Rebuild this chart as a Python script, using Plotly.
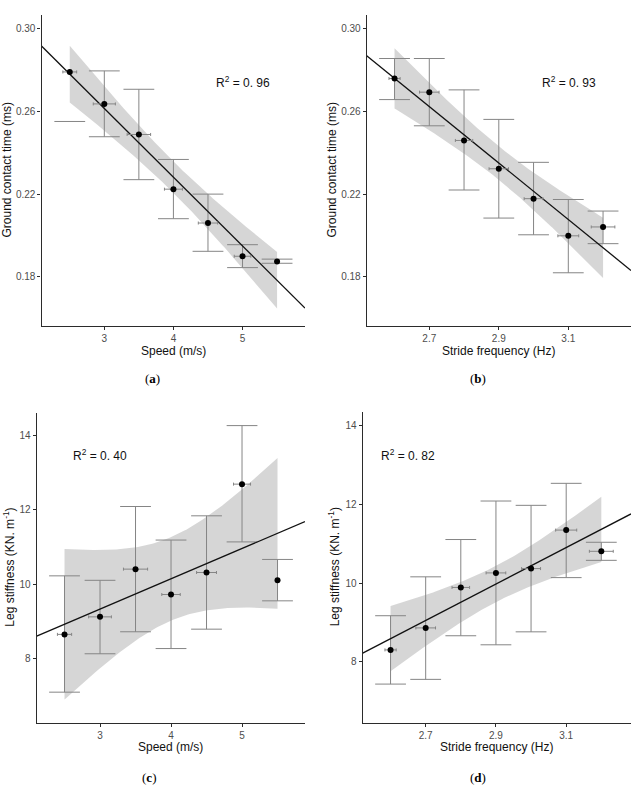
import numpy as np
import plotly.graph_objects as go

# ---------------- data ----------------
speed = [2.5, 3.0, 3.5, 4.0, 4.5, 5.0, 5.5]
speed_err = [0.10, 0.16, 0.17, 0.13, 0.14, 0.12, None]
stride = [2.6, 2.7, 2.8, 2.9, 3.0, 3.1, 3.2]
stride_err = [0.016, 0.028, 0.025, 0.028, 0.027, 0.030, 0.034]

gct_speed = [0.2792, 0.2637, 0.2489, 0.2224, 0.2060, 0.1899, 0.1873]
gct_speed_lo = [0.2552, 0.2478, 0.2270, 0.2081, 0.1923, 0.1844, 0.1865]
gct_speed_hi = [None, 0.2797, 0.2708, 0.2368, 0.2200, 0.1955, 0.1885]

gct_stride = [0.2760, 0.2694, 0.2460, 0.2323, 0.2178, 0.1998, 0.2041]
gct_stride_lo = [0.2658, 0.2531, 0.2220, 0.2084, 0.2003, 0.1819, 0.1960]
gct_stride_hi = [0.2857, 0.2857, 0.2705, 0.2562, 0.2354, 0.2174, 0.2118]

kleg_speed = [8.66, 9.13, 10.41, 9.73, 10.32, 12.69, 10.11]
kleg_speed_lo = [7.11, 8.14, 8.73, 8.28, 8.80, 11.14, 9.56]
kleg_speed_hi = [10.23, 10.11, 12.09, 11.19, 11.84, 14.26, 10.67]

kleg_stride = [8.30, 8.86, 9.89, 10.26, 10.37, 11.35, 10.81]
kleg_stride_lo = [7.43, 7.55, 8.66, 8.43, 8.76, 10.14, 10.58]
kleg_stride_hi = [9.17, 10.16, 11.11, 12.09, 11.98, 12.54, 11.04]

# half-width of the 95% confidence ribbon at the mean x
band_halfwidth_at_mean = [0.0076, 0.0081, 1.12, 0.46]

r2_labels = ["R<sup>2</sup> = 0. 96", "R<sup>2</sup> = 0. 93",
             "R<sup>2</sup> = 0. 40", "R<sup>2</sup> = 0. 82"]
panel_labels = ["(<b>a</b>)", "(<b>b</b>)", "(<b>c</b>)", "(<b>d</b>)"]
x_titles = ["Speed (m/s)", "Stride frequency (Hz)", "Speed (m/s)", "Stride frequency (Hz)"]
y_titles = ["Ground contact time (ms)", "Ground contact time (ms)",
            "Leg stiffness (KN. m<sup>-1</sup>)", "Leg stiffness (KN. m<sup>-1</sup>)"]
speed_ticks = [3, 4, 5]
stride_ticks = [2.7, 2.9, 3.1]
gct_ticks = [0.18, 0.22, 0.26, 0.30]
kleg_ticks = [8, 10, 12, 14]

# ---------------- style / layout ----------------
W, H = 631, 786
FONT = "Liberation Sans, Arial, sans-serif"
ERR_COL = "#858585"
AX_COL = "#2b2b2b"
TICK_COL = "#4d4d4d"

panels = [
    dict(x=speed, xerr=speed_err, y=gct_speed, lo=gct_speed_lo, hi=gct_speed_hi,
         xdom=(41.5, 305), ydom=(15, 326), xr=(2.091, 5.904), yr=(0.15611, 0.30678),
         xt=speed_ticks, xtt=["3", "4", "5"], yt=gct_ticks, ytt=["0.18", "0.22", "0.26", "0.30"],
         r2=(242.5, 81.7), lab=(152, 378), xtitle_y=351, ytitle_x=6),
    dict(x=stride, xerr=stride_err, y=gct_stride, lo=gct_stride_lo, hi=gct_stride_hi,
         xdom=(366.7, 631), ydom=(15, 326), xr=(2.5199, 3.2804), yr=(0.15611, 0.30678),
         xt=stride_ticks, xtt=["2.7", "2.9", "3.1"], yt=gct_ticks, ytt=["0.18", "0.22", "0.26", "0.30"],
         r2=(568.5, 81.7), lab=(478, 378), xtitle_y=351, ytitle_x=331),
    dict(x=speed, xerr=speed_err, y=kleg_speed, lo=kleg_speed_lo, hi=kleg_speed_hi,
         xdom=(36.7, 305), ydom=(412.7, 722.7), xr=(2.108, 5.887), yr=(6.291, 14.606),
         xt=speed_ticks, xtt=["3", "4", "5"], yt=kleg_ticks, ytt=["8", "10", "12", "14"],
         r2=(100, 455), lab=(149, 777), xtitle_y=747, ytitle_x=9),
    dict(x=stride, xerr=stride_err, y=kleg_stride, lo=kleg_stride_lo, hi=kleg_stride_hi,
         xdom=(362.7, 631), ydom=(412, 722.7), xr=(2.5207, 3.2845), yr=(6.447, 14.356),
         xt=stride_ticks, xtt=["2.7", "2.9", "3.1"], yt=kleg_ticks, ytt=["8", "10", "12", "14"],
         r2=(408, 455), lab=(478, 777), xtitle_y=747, ytitle_x=334),
]


def fit_band(x, y, xs, hw_mean):
    x = np.asarray(x, float)
    y = np.asarray(y, float)
    n = len(x)
    b1, b0 = np.polyfit(x, y, 1)
    sxx = np.sum((x - x.mean()) ** 2)
    # confidence band shape of a linear fit: widens with distance from mean x
    hw = hw_mean * np.sqrt(1.0 + n * (xs - x.mean()) ** 2 / sxx)
    yhat = b0 + b1 * xs
    return yhat, yhat - hw, yhat + hw


fig = go.Figure()
annotations = []
layout_axes = {}

for i, p in enumerate(panels):
    k = "" if i == 0 else str(i + 1)
    xref, yref = "x" + k, "y" + k
    hwm = band_halfwidth_at_mean[i]

    # confidence ribbon over the data range
    xs = np.linspace(min(p["x"]), max(p["x"]), 120)
    _, blo, bhi = fit_band(p["x"], p["y"], xs, hwm)
    fig.add_trace(go.Scatter(x=np.concatenate([xs, xs[::-1]]), y=np.concatenate([bhi, blo[::-1]]),
                             fill="toself", fillcolor="rgba(153,153,153,0.4)", line=dict(width=0),
                             mode="lines", hoverinfo="skip", showlegend=False, xaxis=xref, yaxis=yref))

    # vertical error bars (stems)
    vx, vy = [], []
    for xi, lo, hi in zip(p["x"], p["lo"], p["hi"]):
        if lo is not None and hi is not None:
            vx += [xi, xi, None]
            vy += [lo, hi, None]
    fig.add_trace(go.Scatter(x=vx, y=vy, mode="lines", line=dict(color=ERR_COL, width=1),
                             hoverinfo="skip", showlegend=False, xaxis=xref, yaxis=yref))
    # caps
    cx, cy = [], []
    for xi, lo, hi in zip(p["x"], p["lo"], p["hi"]):
        for v in (lo, hi):
            if v is not None:
                cx.append(xi)
                cy.append(v)
    fig.add_trace(go.Scatter(x=cx, y=cy, mode="markers",
                             marker=dict(symbol="line-ew", size=22, color=ERR_COL,
                                         line=dict(color=ERR_COL, width=1)),
                             hoverinfo="skip", showlegend=False, xaxis=xref, yaxis=yref))

    # regression line across full axis range
    xl = np.array(p["xr"])
    yl, _, _ = fit_band(p["x"], p["y"], xl, hwm)
    fig.add_trace(go.Scatter(x=xl, y=yl, mode="lines", line=dict(color="#111111", width=1.3),
                             hoverinfo="skip", showlegend=False, xaxis=xref, yaxis=yref))

    # points with horizontal error bars
    xe = [e if e is not None else 0 for e in p["xerr"]]
    fig.add_trace(go.Scatter(x=p["x"], y=p["y"], mode="markers",
                             marker=dict(color="black", size=6),
                             error_x=dict(type="data", array=xe, symmetric=True, color=ERR_COL,
                                          thickness=1, width=1.5),
                             showlegend=False, xaxis=xref, yaxis=yref))

    common = dict(showline=True, linecolor=AX_COL, linewidth=1.2, showgrid=False, zeroline=False,
                  ticks="outside", ticklen=3, tickwidth=1, tickcolor=AX_COL,
                  tickfont=dict(family=FONT, size=10, color=TICK_COL), mirror=False, fixedrange=True)
    layout_axes["xaxis" + k] = dict(common, domain=[p["xdom"][0] / W, p["xdom"][1] / W],
                                    range=list(p["xr"]), tickvals=p["xt"], ticktext=p["xtt"],
                                    anchor=yref, ticklabelstandoff=0)
    layout_axes["yaxis" + k] = dict(common, domain=[1 - p["ydom"][1] / H, 1 - p["ydom"][0] / H],
                                    range=list(p["yr"]), tickvals=p["yt"], ticktext=p["ytt"],
                                    anchor=xref)

    # axis titles
    annotations.append(dict(text=x_titles[i], xref="paper", yref="paper",
                            x=(p["xdom"][0] + p["xdom"][1]) / 2 / W, y=1 - p["xtitle_y"] / H,
                            xanchor="center", yanchor="middle", showarrow=False,
                            font=dict(family=FONT, size=12, color="#111111")))
    annotations.append(dict(text=y_titles[i], xref="paper", yref="paper", textangle=-90,
                            x=p["ytitle_x"] / W, y=1 - (p["ydom"][0] + p["ydom"][1]) / 2 / H,
                            xanchor="center", yanchor="middle", showarrow=False,
                            font=dict(family=FONT, size=12, color="#111111")))
    # R^2
    annotations.append(dict(text=r2_labels[i], xref="paper", yref="paper",
                            x=p["r2"][0] / W, y=1 - p["r2"][1] / H,
                            xanchor="center", yanchor="middle", showarrow=False,
                            font=dict(family=FONT, size=12, color="#111111")))
    # panel label
    annotations.append(dict(text=panel_labels[i], xref="paper", yref="paper",
                            x=p["lab"][0] / W, y=1 - p["lab"][1] / H,
                            xanchor="center", yanchor="middle", showarrow=False,
                            font=dict(family="Liberation Serif, serif", size=13, color="black")))

fig.update_layout(width=W, height=H, margin=dict(l=0, r=0, t=0, b=0),
                  paper_bgcolor="white", plot_bgcolor="white", showlegend=False,
                  annotations=annotations, **layout_axes)

fig.write_html("out.html", config={"displayModeBar": False})
